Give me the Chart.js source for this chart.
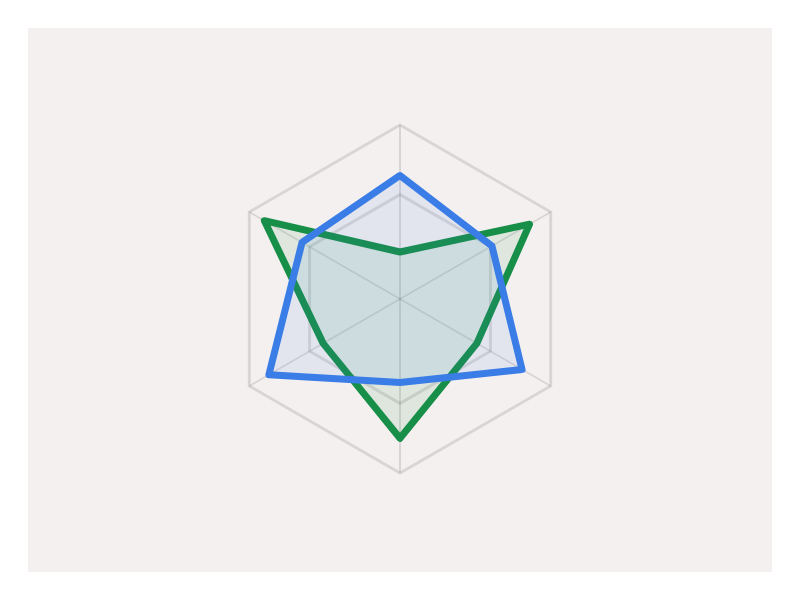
<!DOCTYPE html>
<html>
<head>
<meta charset="utf-8">
<script src="https://cdn.jsdelivr.net/npm/chart.js@4"></script>
<style>
  body { margin: 0; background: #ffffff; }
  #painel { position: absolute; left: 28px; top: 28px; width: 744px; height: 544px; background: #f5f0f0; }
</style>
</head>
<body>
<div id="painel"><canvas id="grafico" width="744" height="544"></canvas></div>
<script>
// eixos do radar (sem rotulos visiveis)
const eixos = ["A", "B", "C", "D", "E", "F"];
const serieAzul = [71, 61, 81, 48, 87, 65];
const serieVerde = [27, 86, 51, 80, 51, 90];
const escalaMax = 100;
const passoGrade = 60;

const ctx = document.querySelector("#grafico");

// o primeiro dataset fica desenhado por cima
new Chart(ctx, {
    type: 'radar',
    data: {
        labels: eixos,
        datasets: [{
            label: 'Azul',
            data: serieAzul,
            borderColor: '#3a7de6',
            backgroundColor: 'rgba(58, 125, 230, 0.1)',
            borderWidth: 7,
            pointRadius: 0,
            fill: true
        }, {
            label: 'Verde',
            data: serieVerde,
            borderColor: '#178f48',
            backgroundColor: 'rgba(23, 143, 72, 0.1)',
            borderWidth: 7,
            pointRadius: 0,
            fill: true
        }]
    },
    options: {
        responsive: false,
        animation: false,
        layout: { padding: { top: 97, bottom: 99 } },
        plugins: {
            legend: { display: false },
            tooltip: { enabled: false }
        },
        elements: { line: { borderJoinStyle: 'round', tension: 0 } },
        scales: {
            r: {
                min: 0,
                max: escalaMax,
                ticks: { display: false, stepSize: passoGrade },
                pointLabels: { display: false },
                grid: { color: 'rgba(0, 0, 0, 0.11)', lineWidth: 3 },
                angleLines: { color: 'rgba(0, 0, 0, 0.11)', lineWidth: 2 }
            }
        }
    }
});
</script>
</body>
</html>
